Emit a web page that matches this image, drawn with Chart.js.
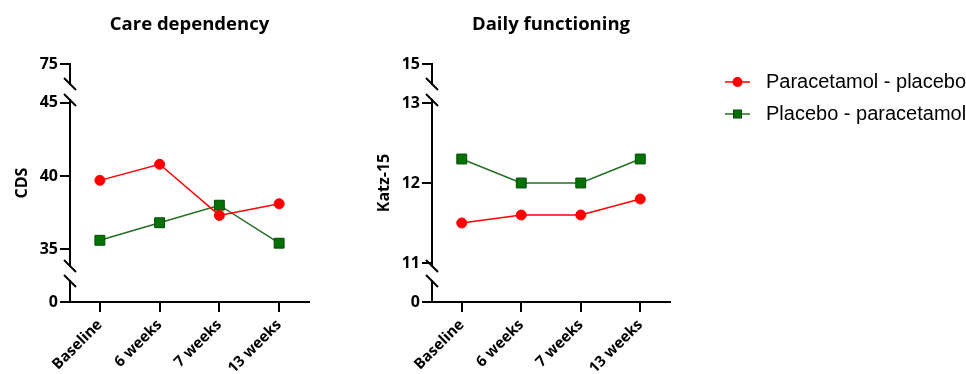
<!DOCTYPE html>
<html>
<head>
<meta charset="utf-8">
<script src="https://cdn.jsdelivr.net/npm/chart.js"></script>
<style>
  body { margin: 0; background: #fff; }
  #wrap { position: relative; width: 966px; height: 374px; }
  .panel { position: absolute; top: 0; height: 374px; }
</style>
</head>
<body>
<div id="wrap">
  <div class="panel" style="left:0;width:360px"><canvas id="careChart"></canvas></div>
  <div class="panel" style="left:362px;width:604px"><canvas id="dailyChart"></canvas></div>
</div>
<script>
const timepoints = ['Baseline', '6 weeks', '7 weeks', '13 weeks'];
const seriesLabels = ['Paracetamol - placebo', 'Placebo - paracetamol'];

// Care dependency (CDS)
const cdsParacetamolFirst = [39.7, 40.8, 37.3, 38.1];
const cdsPlaceboFirst = [35.6, 36.8, 38.0, 35.4];
const cdsTicks = [35, 40, 45];
const cdsTopTick = 75;
const cdsBottomTick = 0;

// Daily functioning (Katz-15)
const katzParacetamolFirst = [11.5, 11.6, 11.6, 11.8];
const katzPlaceboFirst = [12.3, 12.0, 12.0, 12.3];
const katzTicks = [11, 12, 13];
const katzTopTick = 15;
const katzBottomTick = 0;

const RED = '#ff0000';
const GREEN_LINE = '#236e23';
const GREEN_FILL = '#057205';
const GREEN_EDGE = '#004a00';
const AXIS = '#000';
const FONT = "'Open Sans', sans-serif";

function makeDatasets(a, b) {
    return [{
        label: seriesLabels[0],
        data: a,
        yAxisID: 'yMid',
        borderColor: RED,
        backgroundColor: RED,
        borderWidth: 1.5,
        pointStyle: 'circle',
        pointRadius: 5,
        pointBorderWidth: 1,
        pointBorderColor: RED,
        pointBackgroundColor: RED
    }, {
        label: seriesLabels[1],
        data: b,
        yAxisID: 'yMid',
        borderColor: GREEN_LINE,
        backgroundColor: GREEN_FILL,
        borderWidth: 1.5,
        pointStyle: 'rect',
        pointRadius: 7,
        pointBorderWidth: 1,
        pointBorderColor: GREEN_EDGE,
        pointBackgroundColor: GREEN_FILL
    }];
}

const tickFont = { family: FONT, size: 16, weight: 'bold' };

function yPart(weight, min, max, values, extra) {
    return Object.assign({
        type: 'linear',
        position: 'left',
        stack: 'y',
        stackWeight: weight,
        min: min,
        max: max,
        border: { display: true, color: AXIS, width: 2 },
        grid: { display: true, drawOnChartArea: false, drawTicks: true, tickLength: 10, color: AXIS, lineWidth: 2 },
        ticks: { color: AXIS, font: tickFont, padding: 2 },
        afterBuildTicks: s => { s.ticks = values.map(v => ({ value: v })); },
        afterFit: s => { s.width = 70; }
    }, extra || {});
}

function gap(weight) {
    return { type: 'linear', position: 'left', stack: 'y', stackWeight: weight, display: false, min: 0, max: 1 };
}

function makeScales(midMin, midMax, midTicks, topTick, bottomTick, yTitle) {
    return {
        x: {
            type: 'category',
            offset: true,
            border: { display: true, color: AXIS, width: 2 },
            grid: { display: true, drawOnChartArea: false, drawTicks: true, tickLength: 10, color: AXIS, lineWidth: 2 },
            ticks: { color: AXIS, font: { family: FONT, size: 15, weight: 'bold' }, minRotation: 45, maxRotation: 45, autoSkip: false, padding: 4 },
            afterFit: s => { s.height = 72; }
        },
        yBot: yPart(21, bottomTick, bottomTick + 1, [bottomTick]),
        gapLow: gap(15),
        yMid: yPart(166, midMin, midMax, midTicks, {
            title: { display: true, text: yTitle, color: AXIS, font: tickFont, padding: { top: 12.5, bottom: 0 } }
        }),
        gapHigh: gap(16),
        yTop: yPart(20, topTick - 1, topTick, [topTick])
    };
}

// diagonal break marks at the ends of the axis segments
const axisBreaks = {
    id: 'axisBreaks',
    afterDraw(chart) {
        const { ctx, scales } = chart;
        const x = Math.round(scales.yMid.right);
        const ends = [scales.yTop.bottom, scales.yMid.top, scales.yMid.bottom, scales.yBot.top];
        ctx.save();
        ctx.strokeStyle = AXIS;
        ctx.lineWidth = 2;
        ends.forEach(y => {
            ctx.beginPath();
            ctx.moveTo(x - 6, y - 6);
            ctx.lineTo(x + 6, y + 6);
            ctx.stroke();
        });
        ctx.restore();
    }
};

function legendIcon(i) {
    const c = document.createElement('canvas');
    c.width = 31;
    c.height = 14;
    const g = c.getContext('2d');
    g.strokeStyle = i === 0 ? RED : GREEN_LINE;
    g.lineWidth = 1.5;
    g.beginPath();
    g.moveTo(0, 7);
    g.lineTo(25, 7);
    g.stroke();
    if (i === 0) {
        g.fillStyle = RED;
        g.beginPath();
        g.arc(12.5, 7, 5, 0, Math.PI * 2);
        g.fill();
    } else {
        g.fillStyle = GREEN_FILL;
        g.fillRect(8.5, 3, 8, 8);
        g.strokeStyle = GREEN_EDGE;
        g.lineWidth = 1;
        g.strokeRect(8.5, 3, 8, 8);
    }
    return c;
}
const legendIcons = [legendIcon(0), legendIcon(1)];

function makeChart(id, title, yTitle, a, b, midMin, midMax, midTicks, topTick, bottomTick, withLegend) {
    const scales = makeScales(midMin, midMax, midTicks, topTick, bottomTick, yTitle);
    if (withLegend) {
        scales.pad = {
            type: 'linear', position: 'right', display: true,
            grid: { display: false }, ticks: { display: false }, border: { display: false },
            afterFit: s => { s.width = 43; }
        };
    }
    return new Chart(document.getElementById(id), {
        type: 'line',
        data: { labels: timepoints, datasets: makeDatasets(a, b) },
        plugins: [axisBreaks],
        options: {
            responsive: true,
            maintainAspectRatio: false,
            animation: false,
            layout: { padding: { left: 0, right: withLegend ? 0 : 51, top: 0, bottom: 0 } },
            plugins: {
                tooltip: { enabled: false },
                title: {
                    display: true,
                    text: title,
                    fullSize: false,
                    color: AXIS,
                    font: { family: FONT, size: 18.5, weight: 'bold' },
                    padding: { top: 13.5, bottom: 28.3 }
                },
                legend: {
                    display: withLegend,
                    position: 'right',
                    align: 'start',
                    maxWidth: 253,
                    title: { display: true, text: ' ', font: { size: 10 }, padding: { top: 0, bottom: 48 } },
                    labels: {
                        color: AXIS,
                        font: { family: "'Liberation Sans', Arial, sans-serif", size: 20 },
                        padding: 12,
                        usePointStyle: true,
                        pointStyleWidth: 31,
                        generateLabels: chart => chart.data.datasets.map((ds, i) => ({
                            text: ds.label,
                            pointStyle: legendIcons[i],
                            fillStyle: 'transparent',
                            strokeStyle: 'transparent',
                            lineWidth: 0,
                            fontColor: AXIS,
                            hidden: false,
                            datasetIndex: i
                        }))
                    }
                }
            },
            scales: scales
        }
    });
}

makeChart('careChart', 'Care dependency', 'CDS', cdsParacetamolFirst, cdsPlaceboFirst,
    33.84, 45.2, cdsTicks, cdsTopTick, cdsBottomTick, false);
makeChart('dailyChart', 'Daily functioning', 'Katz-15', katzParacetamolFirst, katzPlaceboFirst,
    10.9625, 13.0375, katzTicks, katzTopTick, katzBottomTick, true);
</script>
</body>
</html>
